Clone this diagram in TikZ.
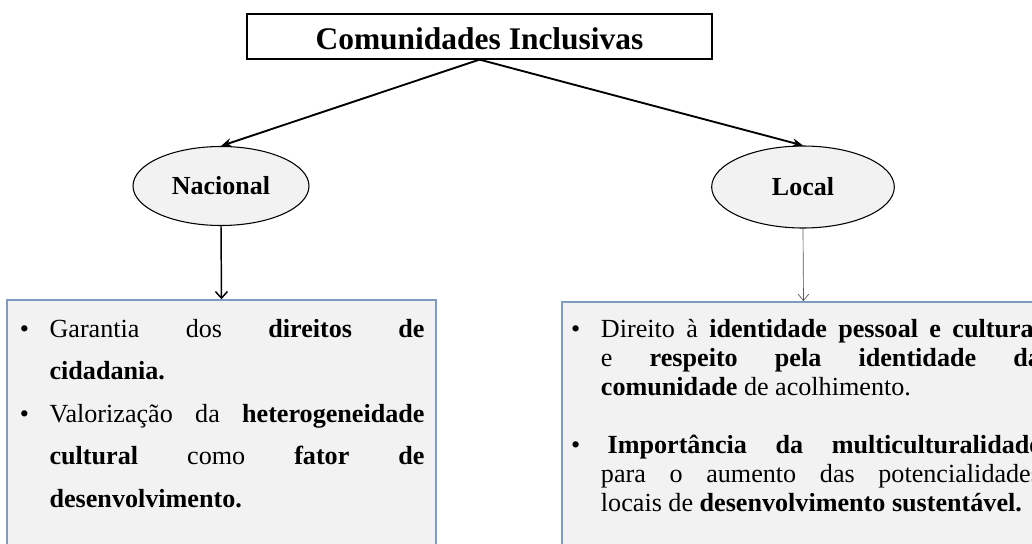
\documentclass[tikz,border=0pt]{standalone}
\usepackage{fontspec}
\setmainfont{Liberation Serif}
\usetikzlibrary{positioning, arrows.meta, shapes.geometric}
\definecolor{PanelGray}{HTML}{F2F2F2}
\definecolor{PanelBlue}{HTML}{7F9BC0}
\definecolor{ThinGray}{HTML}{555555}
\newcommand{\jline}[1]{\makebox[\linewidth][s]{#1}\par}
\newcommand{\bul}{\leavevmode\llap{\textbullet\hspace{15.5pt}}}

\begin{document}
\begin{tikzpicture}[
    x=0.75pt, y=-0.75pt,
    titlebox/.style={draw=black, line width=0.9pt, fill=white, minimum width=348.75pt, minimum height=33.75pt, inner sep=0pt, text height=20.25pt, font=\fontsize{23.6pt}{26pt}\selectfont\bfseries},
    bubble/.style={ellipse, draw=black, line width=0.8pt, fill=PanelGray, inner sep=0pt, font=\fontsize{19.5pt}{22pt}\selectfont\bfseries},
    panel/.style={rectangle, draw=PanelBlue, line width=1.1pt, fill=PanelGray, inner sep=0pt},
    paneltext/.style={anchor=base west, inner sep=0pt},
    mainlink/.style={line width=1.4pt, -{Stealth[length=8pt, width=6.5pt]}},
    downlink/.style={line width=1.1pt, -{Straight Barb[length=5pt, width=9pt]}},
    thinlink/.style={line width=0.5pt, ThinGray, -{Straight Barb[length=5pt, width=8pt]}}
]
  \path[fill=white, use as bounding box] (0,0) rectangle (1032,543);
  % Title
  \node[titlebox] (title) at (479.5,36.5) {Comunidades Inclusivas};
  % Scopes
  \node[bubble, minimum width=132pt, minimum height=59.25pt] (nat) at (221,186) {Nacional};
  \node[bubble, minimum width=137pt, minimum height=61.5pt] (loc) at (803,187) {Local};
  % Panels
  \node[panel, minimum width=321.75pt, minimum height=195pt] (natPanel) at (221.5,430) {};
  \node[panel, minimum width=362.25pt, minimum height=193.5pt] (locPanel) at (803.5,431) {};
  % Links
  \draw[mainlink] (title.south) -- (nat.north);
  \draw[mainlink] (title.south) -- (loc.north);
  \draw[downlink] (nat.south) -- (natPanel.north);
  \draw[thinlink] (loc.south) -- (locPanel.north);
  % Panel texts
  \node[paneltext] (natText) at (49.3,337) {\parbox[t]{281.25pt}{\fontsize{19.6pt}{31.9pt}\selectfont
    \bul\jline{Garantia dos \textbf{direitos de}}
    \textbf{cidadania.}\par
    \bul\jline{Valorização da \textbf{heterogeneidade}}
    \jline{\textbf{cultural} como \textbf{fator de}}
    \textbf{desenvolvimento.}}};
  \node[paneltext] (locText) at (600.7,337) {\parbox[t]{330pt}{\fontsize{19.6pt}{21.75pt}\selectfont
    \bul\jline{Direito à \textbf{identidade pessoal e cultural}}
    \jline{e \textbf{respeito pela identidade da}}
    \textbf{comunidade} de acolhimento.\par
    \vspace{21.75pt}
    \bul\jline{\hspace{5pt}\textbf{Importância da multiculturalidade}}
    \jline{para o aumento das potencialidades}
    locais de \textbf{desenvolvimento sustentável.}}};
\end{tikzpicture}
\end{document}
